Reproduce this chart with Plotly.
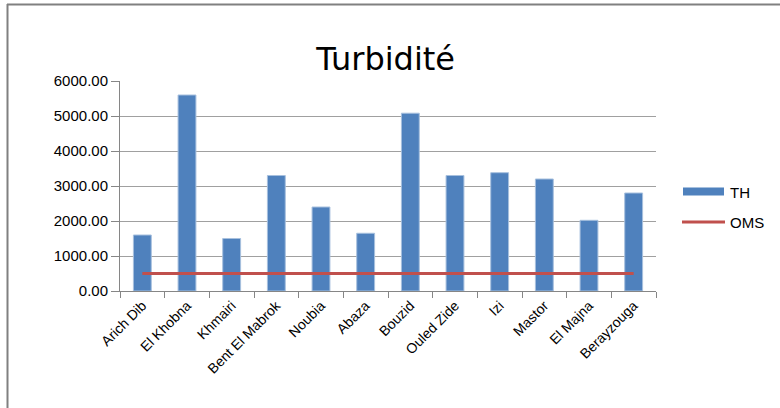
import plotly.graph_objects as go

# data
sites = ["Arich Dib", "El Khobna", "Khmairi", "Bent El Mabrok", "Noubia", "Abaza",
         "Bouzid", "Ouled Zide", "Izi", "Mastor", "El Majna", "Berayzouga"]
th = [1600, 5600, 1500, 3300, 2400, 1650, 5080, 3300, 3380, 3200, 2020, 2800]
oms = [500] * len(sites)
y_ticks = [0, 1000, 2000, 3000, 4000, 5000, 6000]

BAR_COLOR = "#4F81BD"
LINE_COLOR = "#C0504D"

W, H = 780, 408
L, R, T, B = 120, 124, 81, 117


def px_x(x):
    return (x - L) / (W - L - R)


def px_y(y):
    return (H - B - y) / (H - T - B)


fig = go.Figure()
fig.add_trace(go.Bar(x=sites, y=th, name="TH", showlegend=False,
                     marker=dict(color=BAR_COLOR, line=dict(color="#A7C0DE", width=1))))
fig.add_trace(go.Scatter(x=sites, y=oms, name="OMS", mode="lines", showlegend=False,
                         line=dict(color=LINE_COLOR, width=3)))

fig.update_layout(
    width=W, height=H,
    margin=dict(l=L, r=R, t=T, b=B),
    paper_bgcolor="white", plot_bgcolor="white",
    font=dict(family="Liberation Sans, Arial, sans-serif", color="#000000", size=14),
    title=dict(text="Turbidité", x=px_x(385), xanchor="center",
               y=1 - 59 / H, yanchor="middle",
               font=dict(family="DejaVu Sans, sans-serif", size=32)),
    bargap=0.6,
    xaxis=dict(showline=True, linecolor="#868686", linewidth=1,
               ticks="outside", tickson="boundaries", ticklen=6, tickcolor="#868686",
               tickangle=-45, tickfont=dict(size=14)),
    yaxis=dict(range=[0, 6000], tickvals=y_ticks, tickformat=".2f",
               showgrid=True, gridcolor="#A0A0A0", gridwidth=1,
               showline=True, linecolor="#868686", linewidth=1,
               ticks="outside", ticklen=8, tickcolor="#868686",
               tickfont=dict(size=15), zeroline=False),
)

# legend drawn by hand (wide bar swatch like the original)
fig.add_shape(type="rect", xref="paper", yref="paper",
              x0=px_x(683), x1=px_x(724), y0=px_y(187.5), y1=px_y(195.5),
              fillcolor=BAR_COLOR, line=dict(width=0))
fig.add_shape(type="line", xref="paper", yref="paper",
              x0=px_x(682), x1=px_x(725), y0=px_y(222), y1=px_y(222),
              line=dict(color=LINE_COLOR, width=3))
fig.add_annotation(text="TH", xref="paper", yref="paper", x=px_x(728), y=px_y(192),
                   xanchor="left", yanchor="middle", showarrow=False, font=dict(size=15))
fig.add_annotation(text="OMS", xref="paper", yref="paper", x=px_x(728), y=px_y(222),
                   xanchor="left", yanchor="middle", showarrow=False, font=dict(size=15))

# chart frame (top and left edges visible in the reference)
fig.add_shape(type="line", xref="paper", yref="paper",
              x0=px_x(7), x1=px_x(W + 5), y0=px_y(4.5), y1=px_y(4.5),
              line=dict(color="#808080", width=2))
fig.add_shape(type="line", xref="paper", yref="paper",
              x0=px_x(7.5), x1=px_x(7.5), y0=px_y(4), y1=px_y(H + 5),
              line=dict(color="#808080", width=2))

fig.write_html("out.html", config={"displayModeBar": False},
               post_script="document.body.style.margin='0';")
